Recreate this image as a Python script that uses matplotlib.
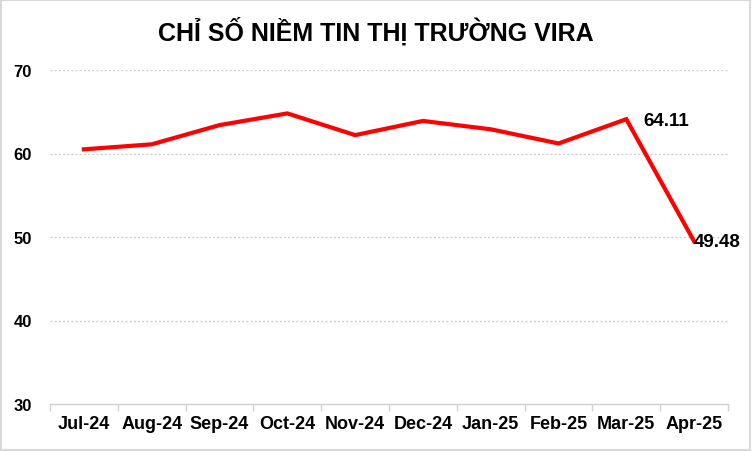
import matplotlib
matplotlib.use("Agg")
import numpy as np
from matplotlib import pyplot as plt

months = ["Jul-24", "Aug-24", "Sep-24", "Oct-24", "Nov-24",
          "Dec-24", "Jan-25", "Feb-25", "Mar-25", "Apr-25"]
vira = [60.5, 61.1, 63.4, 64.8, 62.2, 63.9, 62.9, 61.2, 64.11, 49.48]
yticks = [30, 40, 50, 60, 70]

plt.rcParams["font.family"] = ["Liberation Sans", "DejaVu Sans"]

fig = plt.figure(figsize=(7.52, 4.52), dpi=100)
ax = fig.add_axes([50/752, 1-405/452, 678/752, 334/452])

x = np.arange(len(months))
ax.plot(x, vira, color="#ff0000", lw=3, solid_joinstyle="miter", zorder=3)

# data labels for last two points
ax.annotate(f"{vira[8]:.2f}", (x[8], vira[8]), xytext=(12, -1), textcoords="offset points",
            fontsize=13.5, fontweight="bold", va="center", ha="left")
ax.annotate(f"{vira[9]:.2f}", (x[9], vira[9]), xytext=(0, 0), textcoords="offset points",
            fontsize=13.5, fontweight="bold", va="center", ha="left")

ax.set_xlim(-0.5, len(months) - 0.5)
ax.set_ylim(30, 70)
ax.set_yticks(yticks)
ax.set_yticklabels([str(v) for v in yticks], fontsize=12, fontweight="bold")
ax.tick_params(axis="y", length=0, pad=13)
for v in yticks[1:]:
    ax.axhline(v, color="#d0d0d0", lw=1, ls=(0, (1.5, 1.5)), zorder=1)

ax.set_xticks(x)
ax.set_xticklabels(months, fontsize=13, fontweight="bold")
ax.tick_params(axis="x", length=0, pad=8)
ax.set_xticks(np.arange(-0.5, len(months)), minor=True)
ax.tick_params(axis="x", which="minor", length=5, color="#d0d0d0", width=1)

for s in ["top", "right", "left"]:
    ax.spines[s].set_visible(False)
ax.spines["bottom"].set_color("#d0d0d0")
ax.spines["bottom"].set_linewidth(1)

fig.text(0.5, 1-31/452, "CHỈ SỐ NIỀM TIN THỊ TRƯỜNG VIRA", ha="center", va="center",
         fontsize=18, fontweight="bold")

fig.patches.append(plt.Rectangle((0.001, 0.002), 0.997, 0.996, transform=fig.transFigure,
                                 fill=False, edgecolor="#d9d9d9", lw=1.5))

fig.savefig("out.png", dpi=100)
